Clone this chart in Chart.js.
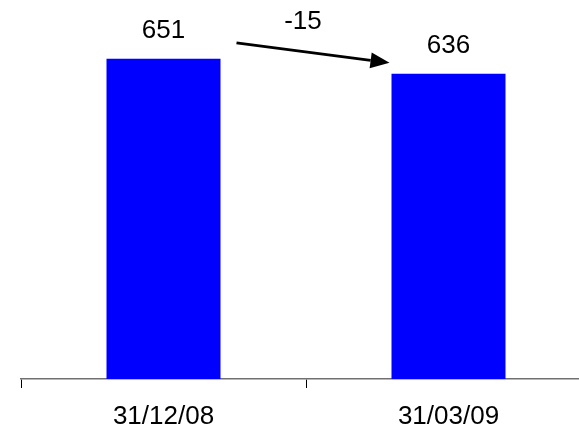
<!DOCTYPE html>
<html>
<head>
<meta charset="utf-8">
<script src="https://cdn.jsdelivr.net/npm/chart.js@4/dist/chart.umd.min.js"></script>
<style>
    html, body { margin: 0; padding: 0; background: #fff; overflow: hidden; }
    #wrap { width: 579px; height: 430px; overflow: hidden; }
</style>
</head>
<body>
<div id="wrap"><canvas id="chart" width="600" height="430"></canvas></div>
<script>
const categories = ['31/12/08', '31/03/09'];
const stockValues = [651, 636];
const axisMin = 330;
const axisMax = 700;

const fontFamily = 'Arial, "Liberation Sans", sans-serif';

// value labels above the bars
const valueLabels = {
    id: 'valueLabels',
    afterDatasetsDraw(chart) {
        const ctx = chart.ctx;
        const meta = chart.getDatasetMeta(0);
        ctx.save();
        ctx.font = '26px ' + fontFamily;
        ctx.fillStyle = '#000';
        ctx.textAlign = 'center';
        ctx.textBaseline = 'alphabetic';
        meta.data.forEach((bar, i) => {
            ctx.fillText(String(stockValues[i]), bar.x, bar.y - 21);
        });
        ctx.restore();
    }
};

// arrow between the two bars with the difference
const changeArrow = {
    id: 'changeArrow',
    afterDatasetsDraw(chart) {
        const ctx = chart.ctx;
        const meta = chart.getDatasetMeta(0);
        const a = meta.data[0], b = meta.data[1];
        const x1 = a.x + a.width / 2 + 16, y1 = a.y - 16;
        const x2 = b.x - b.width / 2 - 2, y2 = b.y - 11;
        const ang = Math.atan2(y2 - y1, x2 - x1);
        const headLen = 19, headHalf = 8;
        const bx = x2 - headLen * Math.cos(ang), by = y2 - headLen * Math.sin(ang);

        ctx.save();
        ctx.strokeStyle = '#000';
        ctx.fillStyle = '#000';
        ctx.lineWidth = 3;
        ctx.beginPath();
        ctx.moveTo(x1, y1);
        ctx.lineTo(bx, by);
        ctx.stroke();
        ctx.beginPath();
        ctx.moveTo(x2, y2);
        ctx.lineTo(bx + headHalf * Math.sin(ang), by - headHalf * Math.cos(ang));
        ctx.lineTo(bx - headHalf * Math.sin(ang), by + headHalf * Math.cos(ang));
        ctx.closePath();
        ctx.fill();

        const diff = stockValues[1] - stockValues[0];
        ctx.font = '26px ' + fontFamily;
        ctx.textAlign = 'center';
        ctx.textBaseline = 'middle';
        ctx.fillText(String(diff), (x1 + x2) / 2 - 10, y1 - 21);
        ctx.restore();
    }
};

// canvas is 600 wide inside a 579 window, so the right end of the axis runs off the edge
new Chart(document.getElementById('chart'), {
    type: 'bar',
    data: {
        labels: categories,
        datasets: [{
            data: stockValues,
            backgroundColor: '#0000FF',
            borderWidth: 0,
            categoryPercentage: 1,
            barPercentage: 0.4
        }]
    },
    options: {
        responsive: false,
        animation: false,
        events: [],
        layout: { padding: { left: 21, right: 9, top: 10, bottom: -16 } },
        plugins: {
            legend: { display: false },
            tooltip: { enabled: false }
        },
        scales: {
            x: {
                offset: true,
                grid: {
                    offset: true,
                    drawOnChartArea: false,
                    drawTicks: true,
                    tickLength: 9,
                    color: '#000',
                    lineWidth: 1
                },
                border: { display: true, color: '#707070', width: 1.5 },
                ticks: {
                    color: '#000',
                    padding: 16,
                    maxRotation: 0,
                    font: { family: fontFamily, size: 26, lineHeight: 1 }
                }
            },
            y: {
                display: false,
                min: axisMin,
                max: axisMax
            }
        }
    },
    plugins: [valueLabels, changeArrow]
});
</script>
</body>
</html>
